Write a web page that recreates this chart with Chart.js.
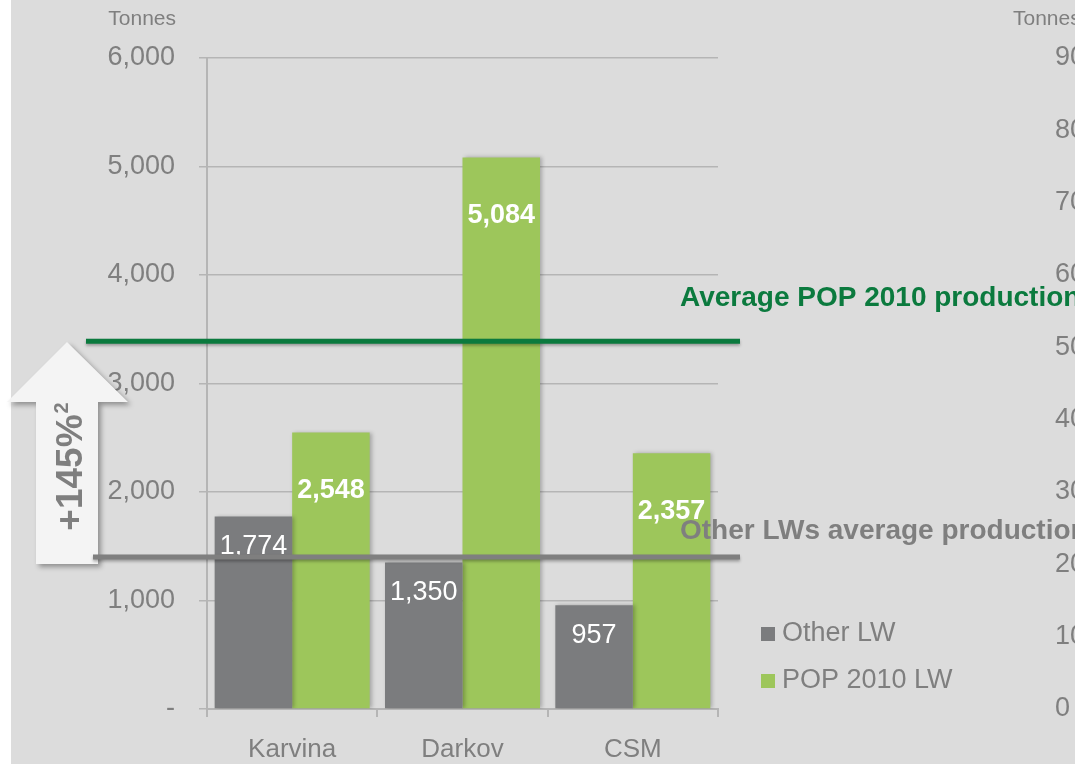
<!DOCTYPE html>
<html>
<head>
<meta charset="utf-8">
<script src="https://cdn.jsdelivr.net/npm/chart.js@4"></script>
<style>
  html, body { margin: 0; padding: 0; background: #ffffff; overflow: hidden; }
  #wrap { width: 1075px; height: 764px; position: relative; }
</style>
</head>
<body>
<div id="wrap"><canvas id="lw-chart"></canvas></div>
<script>
const categories = ['Karvina', 'Darkov', 'CSM'];
const seriesNames = ['Other LW', 'POP 2010 LW'];
const otherLW = [1774, 1350, 957];
const pop2010LW = [2548, 5084, 2357];
const averageValues = [3390, 1400];
const averageNames = ['Average POP 2010 production', 'Other LWs average production'];
const unitLabel = 'Tonnes';
const upliftText = '+145%';
const upliftNote = '2';

const GREY = '#7b7c7e';
const GREEN = '#9dc65b';
const DARK_GREEN = '#0b7a3e';
const TEXT = '#7f7f7f';
const GRID = '#b5b5b5';
const FONT = "'Liberation Sans', Arial, sans-serif";

const ctx = document.getElementById('lw-chart').getContext('2d');

// background, white strip on the left like the slide
const backgroundPlugin = {
    id: 'bg',
    beforeDraw(chart) {
        const c = chart.ctx;
        c.save();
        c.fillStyle = '#ffffff';
        c.fillRect(0, 0, chart.width, chart.height);
        c.fillStyle = '#dcdcdc';
        c.fillRect(11, 0, chart.width - 11, chart.height);
        c.restore();
    },
    beforeDatasetsDraw(chart) {
        const c = chart.ctx;
        c.save();
        c.shadowColor = 'rgba(0,0,0,0.25)';
        c.shadowBlur = 4;
        c.shadowOffsetX = 2;
    },
    afterDatasetsDraw(chart) {
        chart.ctx.restore();
        // value labels inside the bars
        const c = chart.ctx;
        c.save();
        c.fillStyle = '#ffffff';
        c.textAlign = 'center';
        c.textBaseline = 'middle';
        chart.data.datasets.forEach((ds, i) => {
            const meta = chart.getDatasetMeta(i);
            c.font = (i === 1 ? 'bold ' : '') + '27px ' + FONT;
            const offset = i === 1 ? 58 : 30;
            meta.data.forEach((bar, j) => {
                c.fillText(ds.data[j].toLocaleString('en-US'), bar.x, bar.y + offset);
            });
        });
        c.restore();
    }
};

const overlayPlugin = {
    id: 'overlay',
    afterDraw(chart) {
        const c = chart.ctx;
        const area = chart.chartArea;
        const y = chart.scales.y;

        // unit titles
        c.save();
        c.fillStyle = TEXT;
        c.font = '21px ' + FONT;
        c.textBaseline = 'middle';
        c.textAlign = 'right';
        c.fillText(unitLabel, 176, 19);
        c.textAlign = 'left';
        c.fillText(unitLabel, 1013, 19);
        c.restore();

        // up arrow
        c.save();
        c.shadowColor = 'rgba(0,0,0,0.35)';
        c.shadowBlur = 5;
        c.shadowOffsetX = 3;
        c.shadowOffsetY = 3;
        c.fillStyle = '#f4f4f4';
        c.beginPath();
        c.moveTo(67, 342);
        c.lineTo(128, 402);
        c.lineTo(98, 402);
        c.lineTo(98, 564);
        c.lineTo(36, 564);
        c.lineTo(36, 402);
        c.lineTo(7, 402);
        c.closePath();
        c.fill();
        c.restore();

        c.save();
        c.translate(68, 467);
        c.rotate(-Math.PI / 2);
        c.fillStyle = TEXT;
        c.font = 'bold 37px ' + FONT;
        const w1 = c.measureText(upliftText).width;
        c.font = 'bold 20px ' + FONT;
        const w2 = c.measureText(upliftNote).width;
        const start = -(w1 + w2) / 2;
        c.textBaseline = 'alphabetic';
        c.textAlign = 'left';
        c.font = 'bold 37px ' + FONT;
        c.fillText(upliftText, start, 14);
        c.font = 'bold 20px ' + FONT;
        c.fillText(upliftNote, start + w1 + 1, 0);
        c.restore();

        // average lines
        const lineColors = [DARK_GREEN, TEXT];
        const lineStarts = [area.left - 121, area.left - 114];
        averageValues.forEach((v, i) => {
            const py = y.getPixelForValue(v);
            c.save();
            c.shadowColor = 'rgba(0,0,0,0.3)';
            c.shadowBlur = 3;
            c.shadowOffsetY = 2;
            c.strokeStyle = lineColors[i];
            c.lineWidth = 5;
            c.beginPath();
            c.moveTo(lineStarts[i], py);
            c.lineTo(area.right + 22, py);
            c.stroke();
            c.restore();
        });

        // line labels
        c.save();
        c.font = 'bold 28px ' + FONT;
        c.textBaseline = 'middle';
        c.textAlign = 'left';
        c.fillStyle = DARK_GREEN;
        c.fillText(averageNames[0], 680, y.getPixelForValue(averageValues[0]) - 43);
        c.fillStyle = TEXT;
        c.fillText(averageNames[1], 680, y.getPixelForValue(averageValues[1]) - 26);
        c.restore();

        // legend
        c.save();
        c.font = '27px ' + FONT;
        c.textBaseline = 'middle';
        c.textAlign = 'left';
        chart.data.datasets.forEach((ds, i) => {
            const ly = 634 + i * 47;
            c.fillStyle = ds.backgroundColor;
            c.fillRect(761, ly - 7, 14, 14);
            c.fillStyle = TEXT;
            c.fillText(ds.label, 782, ly);
        });
        c.restore();
    }
};

const lwChart = new Chart(ctx, {
    type: 'bar',
    data: {
        labels: categories,
        datasets: [{
            label: seriesNames[0],
            data: otherLW,
            backgroundColor: GREY,
            yAxisID: 'y'
        }, {
            label: seriesNames[1],
            data: pop2010LW,
            backgroundColor: GREEN,
            yAxisID: 'y'
        }]
    },
    options: {
        responsive: true,
        maintainAspectRatio: false,
        animation: false,
        devicePixelRatio: 1,
        categoryPercentage: 0.91,
        barPercentage: 1.0,
        layout: { padding: { top: 58, left: 0, right: 0, bottom: 0 } },
        plugins: {
            legend: { display: false },
            tooltip: { enabled: false }
        },
        scales: {
            x: {
                grid: {
                    display: true,
                    drawOnChartArea: false,
                    drawTicks: true,
                    tickLength: 8,
                    color: GRID,
                    lineWidth: 2
                },
                border: { color: GRID, width: 2 },
                ticks: {
                    color: TEXT,
                    font: { family: FONT, size: 26 },
                    padding: 17
                },
                afterFit(scale) { scale.height = 55; }
            },
            y: {
                position: 'left',
                min: 0,
                max: 6000,
                ticks: {
                    stepSize: 1000,
                    color: TEXT,
                    font: { family: FONT, size: 27 },
                    padding: 24,
                    callback: v => v === 0 ? '-' : v.toLocaleString('en-US')
                },
                grid: { color: GRID, lineWidth: 1.5, tickLength: 8 },
                border: { color: GRID, width: 2 },
                afterFit(scale) {
                    scale.width = 207;
                    scale.paddingTop = 0;
                    scale.paddingBottom = 0;
                }
            },
            y2: {
                position: 'right',
                min: 0,
                max: 900,
                ticks: {
                    stepSize: 100,
                    color: TEXT,
                    font: { family: FONT, size: 27 },
                    padding: 337
                },
                grid: { display: false, drawTicks: false },
                border: { display: false },
                afterFit(scale) {
                    scale.width = 357;
                    scale.paddingTop = 0;
                    scale.paddingBottom = 0;
                }
            }
        }
    },
    plugins: [backgroundPlugin, overlayPlugin]
});
</script>
</body>
</html>
